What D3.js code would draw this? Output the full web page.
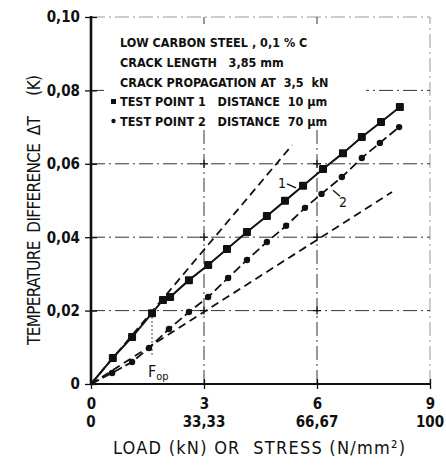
<!DOCTYPE html>
<html><head><meta charset="utf-8">
<script src="https://cdn.jsdelivr.net/npm/d3@7"></script>
<style>
body{margin:0;background:#fff}
svg{display:block}
text{font-family:'Liberation Sans Narrow','DejaVu Sans Condensed','Roboto Condensed',sans-serif;fill:#111;white-space:pre}
</style>
</head><body><svg id="c" width="446" height="471"></svg>
<script>
// ---- data ----
const loadTicks = [0, 3, 6, 9];
const loadLabels = ["0", "3", "6", "9"];
const stressLabels = ["0", "33,33", "66,67", "100"];
const dtTicks = [0, 0.02, 0.04, 0.06, 0.08, 0.10];
const dtLabels = ["0", "0,02", "0,04", "0,06", "0,08", "0,10"];

const point1Load = [0, 0.58, 1.09, 1.62, 1.91, 2.10, 2.60, 3.11, 3.61, 4.14, 4.67, 5.15, 5.63, 6.16, 6.69, 7.19, 7.70, 8.20];
const point1DT   = [0, 0.0071, 0.0128, 0.0193, 0.0229, 0.0237, 0.0283, 0.0324, 0.0368, 0.0414, 0.0458, 0.0499, 0.0540, 0.0586, 0.0629, 0.0673, 0.0714, 0.0755];
const point2Load = [0, 0.56, 1.09, 1.54, 2.07, 2.60, 3.11, 3.64, 4.14, 4.67, 5.18, 5.68, 6.12, 6.66, 7.19, 7.67, 8.18];
const point2DT   = [0, 0.0030, 0.0060, 0.0098, 0.0150, 0.0196, 0.0237, 0.0289, 0.0338, 0.0387, 0.0431, 0.0480, 0.0518, 0.0564, 0.0616, 0.0657, 0.0700];
const upperRefLoad = [0, 5.34];
const upperRefDT   = [0, 0.0651];
const lowerRefLoad = [0, 7.99];
const lowerRefDT   = [0, 0.0523];
const fopLoad = 1.62;
const fopDT = 0.0193;

const legendLines = [
  "LOW CARBON STEEL , 0,1 % C",
  "CRACK LENGTH   3,85 mm",
  "CRACK PROPAGATION AT  3,5  kN",
  "TEST POINT 1   DISTANCE  10 \u00b5m",
  "TEST POINT 2   DISTANCE  70 \u00b5m"
];

// ---- chart ----
const svg = d3.select("#c");
const x = d3.scaleLinear().domain([0, 9]).range([91, 430]);
const y = d3.scaleLinear().domain([0, 0.10]).range([384, 17]);
const ink = "#111";

// gridlines (dash-dot)
const grid = svg.append("g").attr("stroke", "#333").attr("stroke-width", 1)
  .attr("stroke-dasharray", "14,4,2,4").attr("fill", "none");
dtTicks.filter(d => d > 0 && d < 0.08).forEach(d => {
  grid.append("line").attr("x1", x(0)).attr("x2", x(9)).attr("y1", y(d)).attr("y2", y(d));
});
grid.append("line").attr("x1", x(0)).attr("x2", x(9)).attr("y1", y(0.08)).attr("y2", y(0.08));
grid.append("line").attr("x1", x(0)).attr("x2", x(9)).attr("y1", y(0.10)).attr("y2", y(0.10)).attr("stroke-opacity", 0.5);
loadTicks.filter(d => d > 0).forEach(d => {
  grid.append("line").attr("x1", x(d)).attr("x2", x(d)).attr("y1", y(0)).attr("y2", y(0.10))
    .attr("stroke-opacity", d === 9 ? 0.5 : 1);
});

// crosses at grid intersections
const cross = svg.append("g").attr("stroke", ink).attr("stroke-width", 1.2);
loadTicks.filter(d => d > 0 && d < 9).forEach(lx => {
  dtTicks.filter(d => d > 0 && d < 0.08).forEach(ly => {
    cross.append("line").attr("x1", x(lx) - 4).attr("x2", x(lx) + 4).attr("y1", y(ly)).attr("y2", y(ly));
    cross.append("line").attr("x1", x(lx)).attr("x2", x(lx)).attr("y1", y(ly) - 4).attr("y2", y(ly) + 4);
  });
});

// legend box (white background covering grid)
svg.append("rect").attr("x", 104).attr("y", 26).attr("width", 262).attr("height", 104).attr("fill", "#fff");

// reference dashed lines
const line = (xs, ys) => d3.line()(xs.map((v, i) => [x(v), y(ys[i])]));
svg.append("path").attr("d", line(upperRefLoad, upperRefDT)).attr("fill", "none")
  .attr("stroke", ink).attr("stroke-width", 1.8).attr("stroke-dasharray", "8,5");
svg.append("path").attr("d", line(lowerRefLoad, lowerRefDT)).attr("fill", "none")
  .attr("stroke", ink).attr("stroke-width", 1.8).attr("stroke-dasharray", "8,5");

// series lines
svg.append("path").attr("d", line(point1Load, point1DT)).attr("fill", "none")
  .attr("stroke", ink).attr("stroke-width", 2);
svg.append("path").attr("d", line(point2Load, point2DT)).attr("fill", "none")
  .attr("stroke", ink).attr("stroke-width", 1.8).attr("stroke-dasharray", "9,4");

// markers
svg.append("g").selectAll("rect").data(point1Load.slice(1).map((v, i) => [v, point1DT[i + 1]]))
  .join("rect").attr("x", d => x(d[0]) - 4).attr("y", d => y(d[1]) - 4)
  .attr("width", 8).attr("height", 8).attr("rx", 1).attr("fill", ink);
svg.append("g").selectAll("circle").data(point2Load.slice(1).map((v, i) => [v, point2DT[i + 1]]))
  .join("circle").attr("cx", d => x(d[0])).attr("cy", d => y(d[1])).attr("r", 3.2).attr("fill", ink);

// F_op dotted line
svg.append("line").attr("x1", x(fopLoad)).attr("x2", x(fopLoad)).attr("y1", y(fopDT)).attr("y2", y(0.0078))
  .attr("stroke", ink).attr("stroke-width", 1).attr("stroke-dasharray", "1.5,2.5");
const fop = svg.append("text").attr("x", x(fopLoad) - 4).attr("y", y(0.0018)).attr("font-size", 16);
fop.append("tspan").text("F");
fop.append("tspan").attr("font-size", 11).attr("dy", 3).text("op");

// series labels 1 and 2
svg.append("text").attr("x", x(5.07)).attr("y", y(0.0548) + 5).attr("font-size", 14).attr("text-anchor", "middle").text("1");
svg.append("line").attr("x1", x(5.07) + 5).attr("y1", y(0.0548) + 1).attr("x2", x(5.07) + 14).attr("y2", y(0.0548) + 5)
  .attr("stroke", ink).attr("stroke-width", 1.3);
svg.append("text").attr("x", x(6.69)).attr("y", y(0.0501) + 7).attr("font-size", 14).attr("text-anchor", "middle").text("2");
svg.append("line").attr("x1", x(6.69) - 10).attr("y1", y(0.0501) - 10).attr("x2", x(6.69) - 3).attr("y2", y(0.0501) - 4)
  .attr("stroke", ink).attr("stroke-width", 1.3);

// axes
svg.append("line").attr("x1", x(0)).attr("x2", x(0)).attr("y1", y(0) + 1).attr("y2", y(0.10) - 1)
  .attr("stroke", ink).attr("stroke-width", 2.6);
svg.append("line").attr("x1", x(0) - 1).attr("x2", x(9)).attr("y1", y(0)).attr("y2", y(0))
  .attr("stroke", ink).attr("stroke-width", 2.2);

const yAxis = d3.axisLeft(y).tickValues(dtTicks).tickFormat((d, i) => dtLabels[i]).tickSize(6).tickPadding(6);
const gy = svg.append("g").attr("transform", `translate(${x(0)},0)`).call(yAxis);
gy.select(".domain").remove();
gy.selectAll(".tick line").attr("stroke", ink).attr("stroke-width", 1.3).attr("x2", 6).attr("x1", -6);
gy.selectAll(".tick text").attr("font-size", 15).attr("font-weight", "bold").attr("fill", ink)
  .attr("font-family", null).attr("x", -11);

const xAxis = d3.axisBottom(x).tickValues(loadTicks).tickFormat((d, i) => loadLabels[i]).tickSize(5).tickPadding(9);
const gx = svg.append("g").attr("transform", `translate(0,${y(0)})`).call(xAxis);
gx.select(".domain").remove();
gx.selectAll(".tick line").attr("stroke", ink).attr("stroke-width", 1.3).attr("y1", -5).attr("y2", 5);
gx.selectAll(".tick text").attr("font-size", 15).attr("font-weight", "bold").attr("fill", ink).attr("font-family", null);

// stress labels (second row)
svg.append("g").selectAll("text").data(loadTicks).join("text")
  .attr("x", d => x(d)).attr("y", y(0) + 43).attr("text-anchor", "middle")
  .attr("font-size", 15).attr("font-weight", "bold").text((d, i) => stressLabels[i]);

// axis titles
svg.append("text").attr("x", 259).attr("y", 454).attr("text-anchor", "middle").attr("font-size", 18)
  .attr("textLength", 292).attr("lengthAdjust", "spacing")
  .text("LOAD (kN) OR  STRESS (N/mm\u00b2)");
svg.append("text").attr("transform", "translate(40,210) rotate(-90)").attr("text-anchor", "middle")
  .attr("font-size", 17).attr("textLength", 270).attr("lengthAdjust", "spacing")
  .text("TEMPERATURE  DIFFERENCE  \u0394T     (K)");

// legend text
const lg = svg.append("g");
lg.selectAll("text").data(legendLines).join("text")
  .attr("x", 120).attr("y", (d, i) => 47 + i * 19.8).attr("font-size", 12.5).attr("font-weight", "bold")
  .text(d => d);
lg.append("rect").attr("x", 111).attr("y", 99).attr("width", 5).attr("height", 5).attr("fill", ink);
lg.append("circle").attr("cx", 113.5).attr("cy", 121).attr("r", 2.2).attr("fill", ink);
</script>
</body></html>
